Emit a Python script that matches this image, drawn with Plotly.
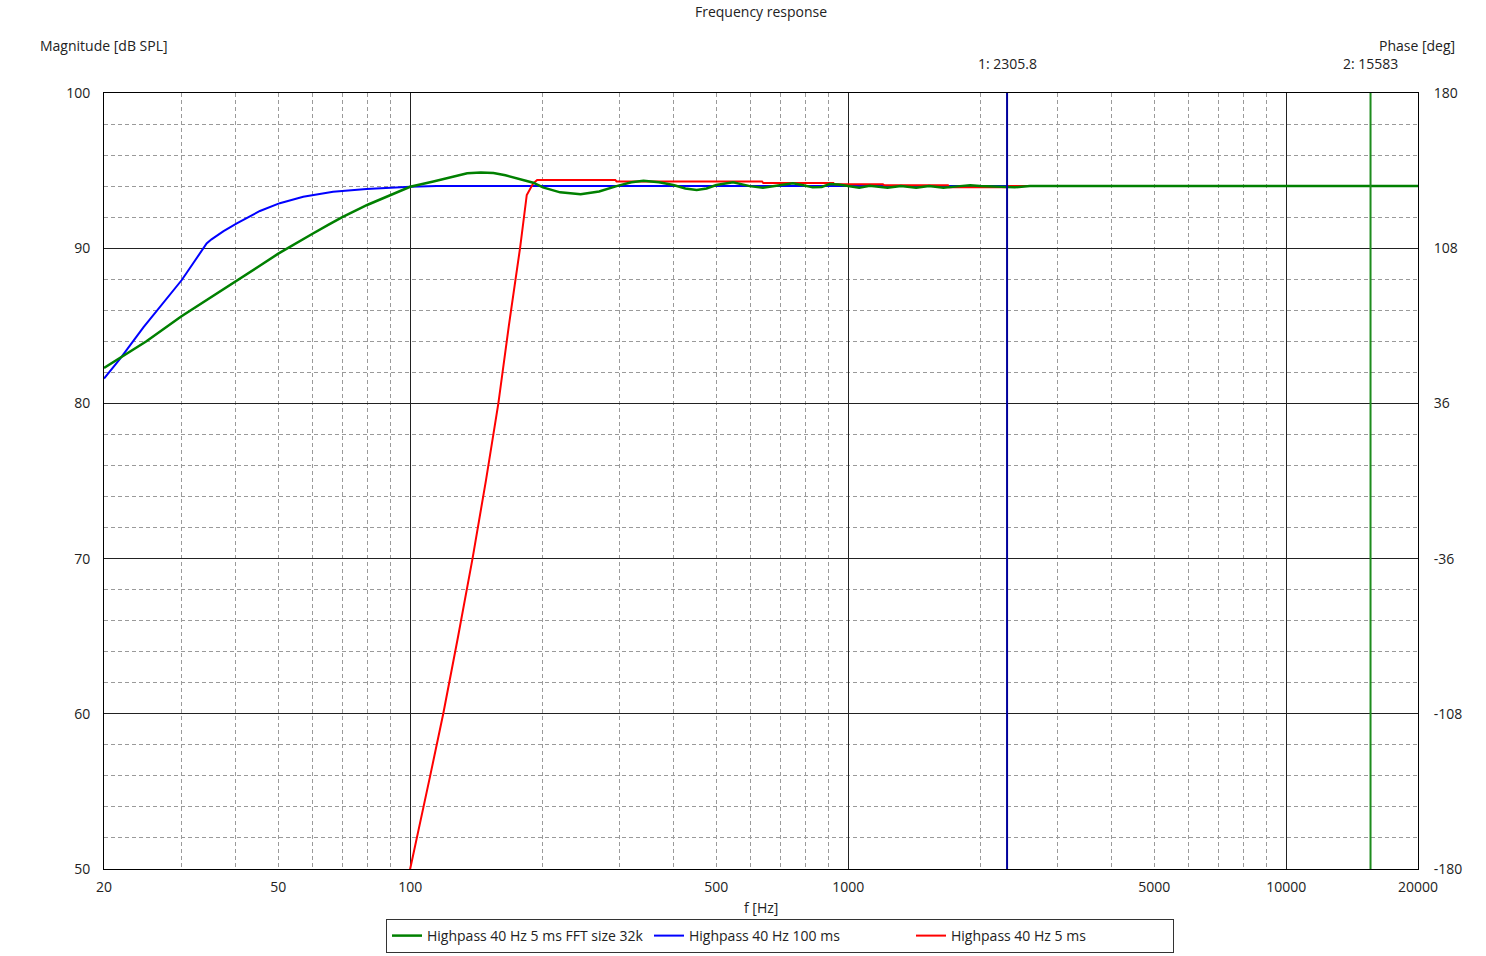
import math
import plotly.graph_objects as go

# ---------------- data ----------------
freq_green = [20, 21.8, 25, 30, 35, 40, 45, 50, 55, 60, 65, 70, 80, 90, 100, 113, 125, 135,
              145, 155, 165, 175, 191, 201, 220, 245, 270, 296, 320, 341, 370, 399, 425,
              451, 475, 500, 546, 596, 639, 698, 748, 790, 830, 870, 908, 950, 1000, 1060,
              1120, 1230, 1320, 1430, 1530, 1650, 1800, 1900, 2000, 2400, 2600, 5000, 10000, 20000]
mag_green = [82.28, 82.93, 84.0, 85.6, 86.8, 87.85, 88.8, 89.65, 90.35, 90.95, 91.5, 92.0, 92.8,
             93.4, 93.96, 94.3, 94.6, 94.83, 94.88, 94.84, 94.7, 94.5, 94.22, 93.92, 93.6, 93.47,
             93.65, 94.0, 94.25, 94.35, 94.25, 94.07, 93.85, 93.75, 93.85, 94.07, 94.25, 94.0,
             93.9, 94.05, 94.18, 94.05, 93.92, 93.95, 94.14, 94.1, 94.0, 93.9, 94.02, 93.9, 94.0,
             93.9, 94.0, 93.9, 94.0, 94.05, 94.0, 93.92, 94.0, 94.0, 94.0, 94.0]

freq_blue = [20, 21.8, 24.6, 27, 30.1, 34.3, 35.2, 37.5, 40.2, 45.4, 50.4, 57, 66.7, 79.5,
             100, 115, 1000, 2300, 5000, 10000, 20000]
mag_blue = [81.6, 82.9, 84.9, 86.3, 87.95, 90.3, 90.57, 91.1, 91.6, 92.4, 92.9, 93.32, 93.64,
            93.81, 93.96, 94.0, 94.0, 94.0, 94.0, 94.0, 94.0]

freq_red = [98, 100, 111, 119, 128.7, 138.8, 149, 159, 168, 178.4, 184.6, 191, 195, 294, 296,
            636, 640, 925, 930, 1200, 1210, 1690, 1700, 2300, 2320, 5000, 10000, 20000]
mag_red = [48.8, 50.0, 55.95, 60.0, 65.0, 70.0, 75.06, 80.0, 85.0, 90.1, 93.43, 94.18, 94.4,
           94.4, 94.3, 94.3, 94.2, 94.2, 94.12, 94.12, 94.05, 94.05, 93.92, 93.92, 94.0, 94.0,
           94.0, 94.0]

series_names = ["Highpass 40 Hz 5 ms FFT size 32k", "Highpass 40 Hz 100 ms", "Highpass 40 Hz 5 ms"]

cursor_freqs = [2305.8, 15583]
cursor_labels = ["1: 2305.8", "2: 15583"]

x_tick_vals = [20, 50, 100, 500, 1000, 5000, 10000, 20000]
x_tick_text = ["20", "50", "100", "500", "1000", "5000", "10000", "20000"]
x_minor_grid = [30, 40, 50, 60, 70, 80, 90,
                200, 300, 400, 500, 600, 700, 800, 900,
                2000, 3000, 4000, 5000, 6000, 7000, 8000, 9000]
x_major_grid = [100, 1000, 10000]
y_left_ticks = [50, 60, 70, 80, 90, 100]
y_right_ticks = [-180, -108, -36, 36, 108, 180]
y_right_text = ["-180", "-108", "-36", "36", "108", "180"]

FONT = "Open Sans"
GREEN = "#008000"
BLUE = "#0000ff"
RED = "#ff0000"
TXT = "#222222"

ML, MT = 104, 93
PW, PH = 1314, 776
MR = 1486 - ML - PW
MB = 956 - MT - PH


def px_x(px):
    return (px - ML) / PW


def px_y(py):
    return (MT + PH - py) / PH


fig = go.Figure()

# cursor lines (on overlay x axis that also carries the solid decade grid)
cursor_colors = ["#00009c", "#1e8c1e"]
for f, c in zip(cursor_freqs, cursor_colors):
    fig.add_trace(go.Scatter(x=[f, f], y=[50, 100], mode="lines", xaxis="x2", yaxis="y",
                             line=dict(color=c, width=2), showlegend=False, hoverinfo="skip"))

fig.add_trace(go.Scatter(x=freq_blue, y=mag_blue, mode="lines", name=series_names[1],
                         line=dict(color=BLUE, width=2), legendrank=2))
fig.add_trace(go.Scatter(x=freq_red, y=mag_red, mode="lines", name=series_names[2],
                         line=dict(color=RED, width=2), legendrank=3))
fig.add_trace(go.Scatter(x=freq_green, y=mag_green, mode="lines", name=series_names[0],
                         line=dict(color=GREEN, width=2.5), legendrank=1))

# invisible trace so the phase axis is rendered
fig.add_trace(go.Scatter(x=[20], y=[0], yaxis="y2", mode="markers",
                         marker=dict(opacity=0), showlegend=False, hoverinfo="skip"))

xrange = [math.log10(20), math.log10(20000)]

fig.update_layout(
    width=1486, height=956,
    margin=dict(l=ML, r=MR, t=MT, b=MB, autoexpand=False),
    paper_bgcolor="white", plot_bgcolor="white",
    font=dict(family=FONT, size=14, color=TXT),
    showlegend=True,
    legend=dict(orientation="h", x=px_x(386), xanchor="left", y=px_y(936), yanchor="middle",
                bordercolor="#333333", borderwidth=1, font=dict(size=14, color=TXT),
                itemwidth=30, entrywidth=217, entrywidthmode="pixels", tracegroupgap=0,
                traceorder="normal"),
    xaxis=dict(type="log", range=xrange, tickvals=x_tick_vals, ticktext=x_tick_text,
               showgrid=False, zeroline=False, showline=True, linecolor="black", linewidth=1,
               mirror=True, ticks="outside", ticklen=5, tickcolor="rgba(0,0,0,0)",
               tickfont=dict(size=14, color=TXT),
               minor=dict(tickvals=x_minor_grid, showgrid=True, gridcolor="#9a9a9a",
                          griddash="4px,3px", gridwidth=1, ticks="")),
    xaxis2=dict(type="log", range=xrange, overlaying="x", side="bottom",
                tickvals=x_major_grid, showticklabels=False, showgrid=True,
                gridcolor="#222222", gridwidth=1, zeroline=False, showline=False, ticks=""),
    yaxis=dict(range=[50, 100], tickvals=y_left_ticks, showgrid=True, gridcolor="#222222",
               gridwidth=1, zeroline=False, showline=True, linecolor="black", linewidth=1,
               mirror=True, ticks="outside", ticklen=10, tickcolor="rgba(0,0,0,0)",
               tickfont=dict(size=14, color=TXT),
               minor=dict(dtick=2, showgrid=True, gridcolor="#9a9a9a",
                          griddash="4px,3px", gridwidth=1, ticks="")),
    yaxis2=dict(range=[-180, 180], tickvals=y_right_ticks, ticktext=y_right_text,
                overlaying="y", side="right",
                showgrid=False, zeroline=False, showline=False, ticks="outside", ticklen=12,
                tickcolor="rgba(0,0,0,0)", tickfont=dict(size=14, color=TXT)),
)

annotations = [
    dict(text="Frequency response", x=px_x(761), y=px_y(12), xref="paper", yref="paper",
         xanchor="center", yanchor="middle", showarrow=False, font=dict(size=14)),
    dict(text="Magnitude [dB SPL]", x=px_x(38), y=px_y(45), xref="paper",
         yref="paper", xanchor="left", yanchor="middle", showarrow=False, font=dict(size=14)),
    dict(text="Phase [deg]", x=px_x(1457), y=px_y(45), xref="paper",
         yref="paper", xanchor="right", yanchor="middle", showarrow=False, font=dict(size=14)),
    dict(text="f [Hz]", x=px_x(761), y=px_y(907), xref="paper", yref="paper",
         xanchor="center", yanchor="middle", showarrow=False, font=dict(size=14)),
]
for f, lab in zip(cursor_freqs, cursor_labels):
    annotations.append(dict(text=lab, x=math.log10(f), y=px_y(64), xref="x",
                            yref="paper", xanchor="center", yanchor="middle",
                            showarrow=False, font=dict(size=14)))
fig.update_layout(annotations=annotations)

# remove the browser's default 8px body margin so the figure sits at the page origin
fig.write_html("out.html", include_plotlyjs=True, config={"displayModeBar": False},
               post_script="document.body.style.margin='0';document.body.style.overflow='hidden';")
